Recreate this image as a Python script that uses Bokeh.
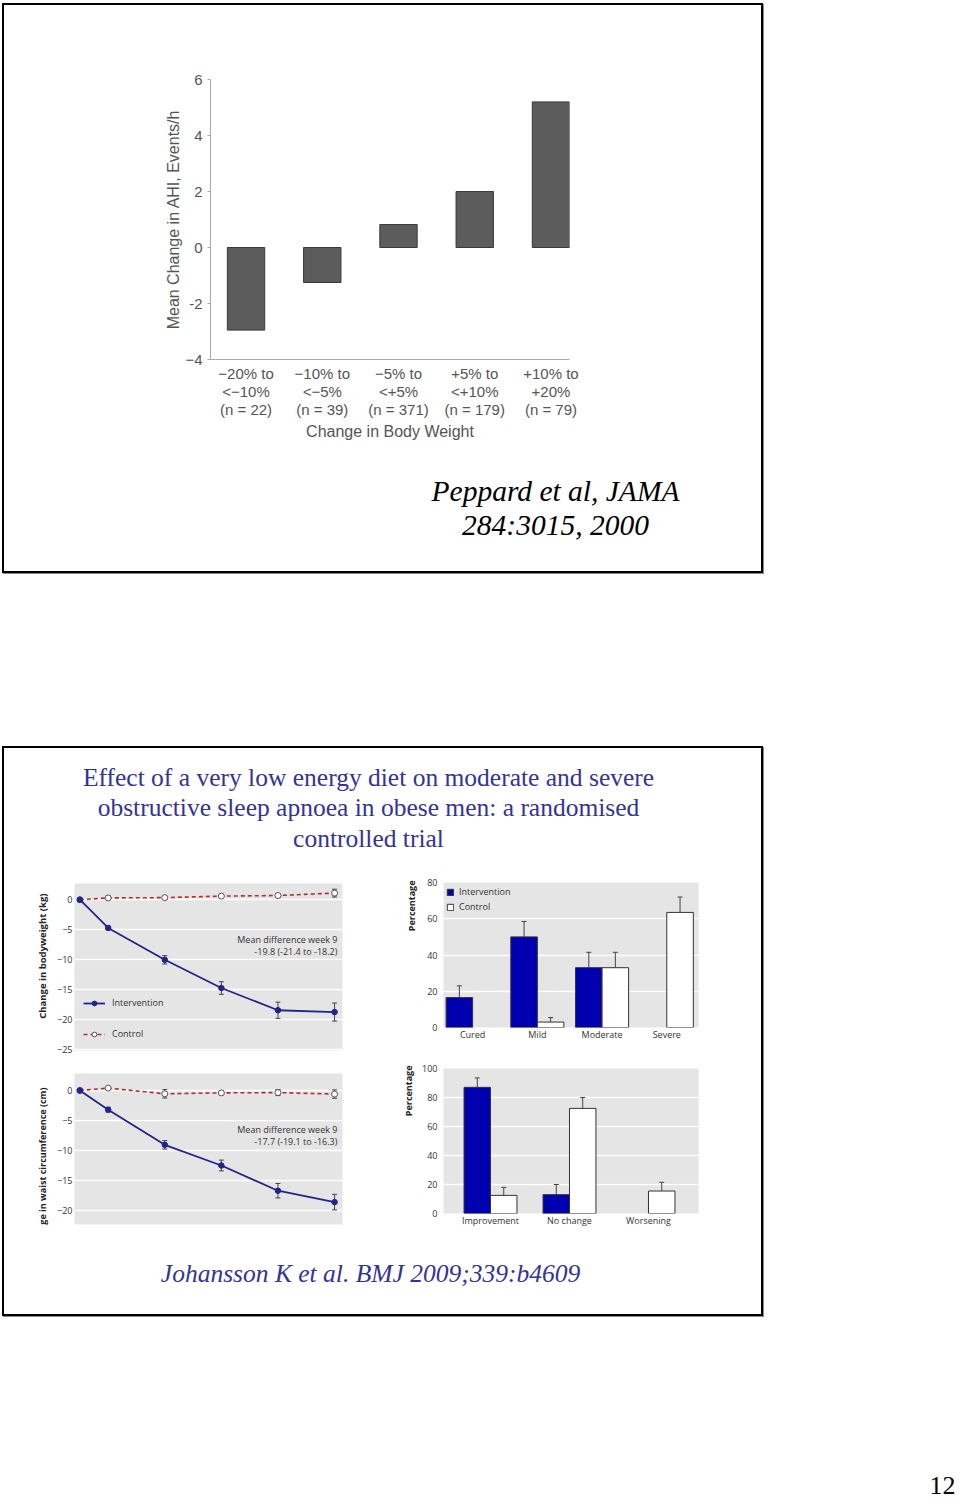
from bokeh.plotting import figure
from bokeh.models import (Range1d, FixedTicker, Label, Legend, LegendItem, Whisker,
                          TeeHead, ColumnDataSource, Spacer, Title)
from bokeh.layouts import column, row
from bokeh.core.properties import value
from bokeh.embed import file_html
from bokeh.resources import INLINE

# ---------------- data ----------------
# Peppard et al. (top chart)
weight_cats = ["\u221220% to\n<\u221210%\n(n = 22)", "\u221210% to\n<\u22125%\n(n = 39)",
               "\u22125% to\n<+5%\n(n = 371)", "+5% to\n<+10%\n(n = 179)",
               "+10% to\n+20%\n(n = 79)"]
ahi_change = [-2.95, -1.25, 0.82, 2.0, 5.2]
ahi_ticks = [-4, -2, 0, 2, 4, 6]
ahi_tick_labels = ["\u22124", "-2", "0", "2", "4", "6"]

# Johansson et al. (line charts)
weeks = [0, 1, 3, 5, 7, 9]
bw_int = [0, -4.7, -10.0, -14.7, -18.4, -18.7]
bw_int_err = [0, 0.3, 0.7, 1.05, 1.35, 1.5]
bw_ctl = [0, 0.3, 0.35, 0.6, 0.7, 1.1]
bw_ctl_err = [0, 0.3, 0.3, 0.3, 0.3, 0.65]
bw_ticks = [-25, -20, -15, -10, -5, 0]

wc_int = [0, -3.2, -9.05, -12.5, -16.7, -18.6]
wc_int_err = [0, 0.4, 0.7, 0.9, 1.2, 1.3]
wc_ctl = [0, 0.4, -0.55, -0.4, -0.35, -0.6]
wc_ctl_err = [0, 0.2, 0.7, 0.3, 0.5, 0.7]
wc_ticks = [-20, -15, -10, -5, 0]

# Johansson et al. (bar charts)
ahi_cats = ["Cured", "Mild", "Moderate", "Severe"]
sev_int = [16.5, 50, 33, 0]
sev_int_err = [6.5, 8.5, 8.5, 0]
sev_ctl = [0, 3, 33, 63.5]
sev_ctl_err = [0, 2.5, 8.5, 8.5]
sev_ticks = [0, 20, 40, 60, 80]

out_cats = ["Improvement", "No change", "Worsening"]
out_int = [87, 13, 0]
out_int_err = [6.5, 7, 0]
out_ctl = [12.5, 72.5, 15.5]
out_ctl_err = [5.5, 7.5, 6]
out_ticks = [0, 20, 40, 60, 80, 100]

# ---------------- styles ----------------
SANS = "Open Sans"
GRAY_BG = "#e5e5e5"
BLUE_BAR = "#0000b0"
NAVY = "#23238c"
RED = "#b0302f"
TXT_BLUE = "#333399"
BORDER = {"border": "2px solid #000", "box-shadow": "1px 1px 0 #888"}


def base_fig(w, h, xr, yr, left, right, top, bottom, **kw):
    p = figure(width=w, height=h, x_range=xr, y_range=yr, output_backend="svg",
               toolbar_location=None, min_border_left=left, min_border_right=right,
               min_border_top=top, min_border_bottom=bottom, **kw)
    p.outline_line_color = None
    return p


def text_fig(w, h, xs, ys, texts, size, color, style="normal", align="center",
             font="Liberation Serif", baseline="middle"):
    p = figure(width=w, height=h, x_range=Range1d(0, w), y_range=Range1d(h, 0),
               x_axis_location=None, y_axis_location=None, toolbar_location=None,
               output_backend="svg", min_border=0)
    p.grid.visible = False
    p.outline_line_color = None
    p.text(x=xs, y=ys, text=texts, text_font=value(font), text_font_style=style,
           text_font_size=size, text_color=color, text_align=align,
           text_baseline=baseline)
    return p


def side_title(p, text, offset, standoff, size):
    p.add_layout(Title(text=text, align="right", offset=offset, standoff=standoff,
                       text_font=SANS, text_font_size=size, text_font_style="bold",
                       text_color="#222222"), "left")


# ---------------- top chart ----------------
idx = list(range(len(weight_cats)))
p1 = base_fig(757, 452, Range1d(-0.466, 4.243), Range1d(-4, 6), 206, 192, 74, 98)
p1.vbar(x=idx, top=ahi_change, bottom=0, width=0.49, fill_color="#5c5c5c",
        line_color="#383838", line_width=1)
p1.grid.visible = False
p1.xaxis.ticker = FixedTicker(ticks=idx)
p1.xaxis.major_label_overrides = {i: lab for i, lab in zip(idx, weight_cats)}
p1.yaxis.ticker = FixedTicker(ticks=ahi_ticks)
p1.yaxis.major_label_overrides = {t: lab for t, lab in zip(ahi_ticks, ahi_tick_labels)}
p1.xaxis.axis_label = "Change in Body Weight"
p1.yaxis.axis_label = "Mean Change in AHI, Events/h"
for ax in (p1.xaxis, p1.yaxis):
    ax.axis_line_color = "#aaaaaa"
    ax.major_label_text_font = "Liberation Sans"
    ax.major_label_text_font_size = "15px"
    ax.major_label_text_color = "#555555"
    ax.axis_label_text_font = "Liberation Sans"
    ax.axis_label_text_font_size = "16px"
    ax.axis_label_text_font_style = "normal"
    ax.axis_label_text_color = "#555555"
    ax.minor_tick_line_color = None
p1.xaxis.major_tick_line_color = None
p1.xaxis.major_tick_out = 0
p1.xaxis.major_tick_in = 0
p1.xaxis.major_label_standoff = 5
p1.xaxis.major_label_text_line_height = 1.08
p1.xaxis.axis_label_standoff = 2
p1.yaxis.major_tick_line_color = "#aaaaaa"
p1.yaxis.major_tick_out = 3
p1.yaxis.major_tick_in = 0
p1.yaxis.major_label_standoff = 5
p1.yaxis.axis_label_standoff = 0

ptxt1 = text_fig(757, 114, [551, 551], [33, 67],
                 ["Peppard et al, JAMA", "284:3015, 2000"], "29.5px", "#000000",
                 style="italic")

top_box = column(row(p1), row(ptxt1), styles=BORDER)

note_y = {"A": [-6.6, -8.6], "C": [-6.5, -8.5]}


# ---------------- line charts ----------------
def line_chart(key, w, h, yr, ticks, ylabel, lab_offset, lab_size, ints, ints_err,
               ctls, ctls_err, note, left, right, top, bottom, legend=False):
    p = base_fig(w, h, Range1d(-0.19, 9.28), yr, left, right, top, bottom,
                 x_axis_location=None)
    p.background_fill_color = GRAY_BG
    p.xgrid.visible = False
    p.ygrid.ticker = FixedTicker(ticks=ticks)
    p.ygrid.grid_line_color = "white"
    p.ygrid.grid_line_width = 1.5
    ax = p.yaxis
    ax.ticker = FixedTicker(ticks=ticks)
    ax.axis_line_color = None
    ax.major_tick_line_color = None
    ax.minor_tick_line_color = None
    ax.major_tick_out = 0
    ax.major_tick_in = 0
    ax.major_label_standoff = 2
    ax.major_label_text_font = SANS
    ax.major_label_text_font_size = "9px"
    ax.major_label_text_color = "#333333"
    side_title(p, ylabel, lab_offset, 12, lab_size)

    s_int = ColumnDataSource(dict(x=weeks, y=ints,
                                  lo=[v - e for v, e in zip(ints, ints_err)],
                                  hi=[v + e for v, e in zip(ints, ints_err)]))
    s_ctl = ColumnDataSource(dict(x=weeks, y=ctls,
                                  lo=[v - e for v, e in zip(ctls, ctls_err)],
                                  hi=[v + e for v, e in zip(ctls, ctls_err)]))
    for s in (s_ctl, s_int):
        p.add_layout(Whisker(base="x", upper="hi", lower="lo", source=s,
                             line_color="#444444", line_width=1,
                             upper_head=TeeHead(size=5, line_color="#444444", line_width=1),
                             lower_head=TeeHead(size=5, line_color="#444444", line_width=1)))
    l_ctl = p.line("x", "y", source=s_ctl, line_color=RED, line_width=1.6,
                   line_dash="4 3")
    m_ctl = p.scatter("x", "y", source=s_ctl, size=6, fill_color="white",
                      line_color="#555555", line_width=1)
    l_int = p.line("x", "y", source=s_int, line_color=NAVY, line_width=1.8)
    m_int = p.scatter("x", "y", source=s_int, size=5.5, fill_color=NAVY,
                      line_color=NAVY)
    for i, t in enumerate(note):
        p.add_layout(Label(x=9.1, y=note_y[key][i], text=t, text_align="right",
                           text_baseline="middle", text_font=SANS,
                           text_font_size="9px", text_color="#333333"))
    if legend:
        lg = Legend(items=[LegendItem(label="Intervention", renderers=[l_int, m_int]),
                           LegendItem(label="Control", renderers=[l_ctl, m_ctl])],
                    location=(9, 10), orientation="vertical", glyph_width=22,
                    glyph_height=12, label_height=12, spacing=18, padding=0,
                    margin=0, label_standoff=7, background_fill_alpha=0,
                    border_line_color=None, label_text_font=SANS,
                    label_text_font_size="9px", label_text_color="#333333")
        p.add_layout(lg)
    return p


pA = line_chart("A", 381, 185, Range1d(-25.1, 2.7), bw_ticks, "Change in bodyweight (kg)",
                10, "9.5px", bw_int, bw_int_err, bw_ctl, bw_ctl_err,
                ["Mean difference week 9", "-19.8 (-21.4 to -18.2)"],
                70, 43, 13, 5, legend=True)
pC = line_chart("C", 381, 180, Range1d(-22.33, 2.83), wc_ticks,
                "ge in waist circumference (cm)", 14, "9px",
                wc_int, wc_int_err, wc_ctl, wc_ctl_err,
                ["Mean difference week 9", "-17.7 (-19.1 to -16.3)"],
                70, 43, 18, 11)


# ---------------- bar charts ----------------
def bar_chart(w, h, xr, yr, ticks, cats, ints, ints_err, ctls, ctls_err, bw,
              left, right, top, bottom, plabel_offset, plabel_standoff, legend=False):
    p = base_fig(w, h, xr, yr, left, right, top, bottom)
    p.background_fill_color = GRAY_BG
    p.xgrid.visible = False
    p.ygrid.ticker = FixedTicker(ticks=ticks)
    p.ygrid.grid_line_color = "white"
    p.ygrid.grid_line_width = 1.5
    ci = list(range(len(cats)))
    p.xaxis.ticker = FixedTicker(ticks=ci)
    p.xaxis.major_label_overrides = {i: c for i, c in zip(ci, cats)}
    p.yaxis.ticker = FixedTicker(ticks=ticks)
    for ax in (p.xaxis, p.yaxis):
        ax.axis_line_color = None
        ax.major_tick_line_color = None
        ax.minor_tick_line_color = None
        ax.major_tick_out = 0
        ax.major_tick_in = 0
        ax.major_label_text_font = SANS
        ax.major_label_text_font_size = "9px"
        ax.major_label_text_color = "#333333"
    p.yaxis.major_label_standoff = 6
    p.xaxis.major_label_standoff = 0

    rends = []
    for vals, errs, off, col in ((ints, ints_err, -bw / 2, BLUE_BAR),
                                 (ctls, ctls_err, bw / 2, "white")):
        keep = [i for i, v in enumerate(vals) if v > 0]
        s = ColumnDataSource(dict(x=[ci[i] + off for i in keep],
                                  top=[vals[i] for i in keep],
                                  hi=[vals[i] + errs[i] for i in keep]))
        p.add_layout(Whisker(base="x", upper="hi", lower="top", source=s,
                             line_color="#444444", line_width=1,
                             upper_head=TeeHead(size=5, line_color="#444444", line_width=1),
                             lower_head=None))
        r = p.vbar(x="x", top="top", bottom=0, width=bw, source=s, fill_color=col,
                   line_color="#333333", line_width=1)
        rends.append(r)
    side_title(p, "Percentage", plabel_offset, plabel_standoff, "9px")
    if legend:
        lg = Legend(items=[LegendItem(label="Intervention", renderers=[rends[0]]),
                           LegendItem(label="Control", renderers=[rends[1]])],
                    location=(3, 114), orientation="vertical", glyph_width=8,
                    glyph_height=8, label_height=12, spacing=2, padding=0, margin=0,
                    label_standoff=5, background_fill_alpha=0, border_line_color=None,
                    label_text_font=SANS, label_text_font_size="9px",
                    label_text_color="#333333")
        p.add_layout(lg)
    return p


pB = bar_chart(376, 185, Range1d(-0.45, 3.49), Range1d(0, 80), sev_ticks, ahi_cats,
               sev_int, sev_int_err, sev_ctl, sev_ctl_err, 0.41,
               58, 63, 12, 28, -2, 13, legend=True)
pD = bar_chart(376, 180, Range1d(-0.595, 2.633), Range1d(0, 100), out_ticks, out_cats,
               out_int, out_int_err, out_ctl, out_ctl_err, 0.335,
               58, 63, 13, 22, -3, 9)

ptitle = text_fig(757, 122, [364, 364, 364], [29, 59, 90],
                  ["Effect of a very low energy diet on moderate and severe",
                   "obstructive sleep apnoea in obese men: a randomised",
                   "controlled trial"], "25.5px", TXT_BLUE)
pcite = text_fig(757, 79, [366], [38], ["Johansson K et al. BMJ 2009;339:b4609"],
                 "25.5px", TXT_BLUE, style="italic")

bottom_box = column(row(ptitle), row(column(pA, pC), column(pB, pD)), row(pcite),
                    styles=BORDER)

pnum = text_fig(60, 185, [55], [169], ["12"], "26px", "#000000", align="right")

page = column(Spacer(width=960, height=3),
              row(Spacer(width=2, height=10), top_box),
              Spacer(width=960, height=173),
              row(Spacer(width=2, height=10), bottom_box),
              row(Spacer(width=900, height=10), pnum))

open("out.html", "w").write(file_html(page, INLINE))
